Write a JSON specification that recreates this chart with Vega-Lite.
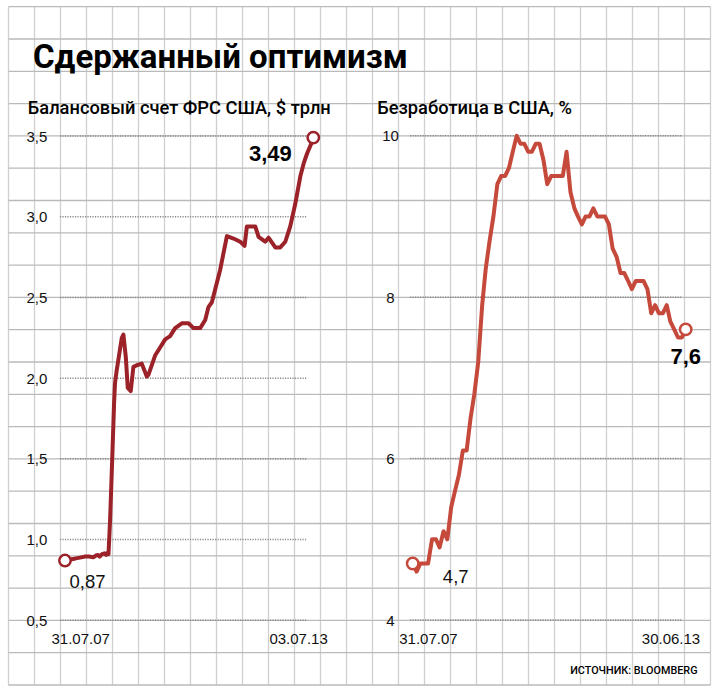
{
  "$schema": "https://vega.github.io/schema/vega-lite/v6.json",
  "width": 719,
  "height": 696,
  "autosize": {"type": "none"},
  "padding": 0,
  "background": "white",
  "config": {"view": {"stroke": null}, "font": "Liberation Sans"},
  "title": {
    "text": "Сдержанный оптимизм",
    "anchor": "start",
    "frame": "group",
    "offset": 0,
    "dx": 33,
    "dy": 101.4,
    "baseline": "alphabetic",
    "font": "Roboto",
    "fontSize": 33,
    "fontWeight": "bold",
    "color": "#000000"
  },
  "datasets": {
    "paperV": [{"k":0},{"k":1},{"k":2},{"k":3},{"k":4},{"k":5},{"k":6},{"k":7},{"k":8},{"k":9},{"k":10},{"k":11},{"k":12},{"k":13},{"k":14},{"k":15},{"k":16},{"k":17},{"k":18},{"k":19},{"k":20},{"k":21},{"k":22},{"k":23},{"k":24},{"k":25},{"k":26},{"k":27}],
    "paperH": [{"r":0},{"r":1},{"r":2},{"r":3},{"r":4},{"r":5},{"r":6},{"r":7},{"r":8},{"r":9},{"r":10},{"r":11},{"r":12},{"r":13},{"r":14},{"r":15},{"r":16},{"r":17},{"r":18},{"r":19},{"r":20},{"r":21}],
    "fed": [
      {"date":"2007-07-31","value":0.87},{"date":"2007-09-05","value":0.875},{"date":"2007-10-10","value":0.88},{"date":"2007-11-14","value":0.885},{"date":"2007-12-19","value":0.89},{"date":"2008-01-23","value":0.895},{"date":"2008-02-27","value":0.895},{"date":"2008-04-02","value":0.89},{"date":"2008-04-23","value":0.9},{"date":"2008-05-14","value":0.905},{"date":"2008-05-28","value":0.895},{"date":"2008-06-18","value":0.91},{"date":"2008-07-09","value":0.915},{"date":"2008-07-23","value":0.905},{"date":"2008-08-06","value":0.92},{"date":"2008-08-13","value":0.91},{"date":"2008-08-27","value":1.12},{"date":"2008-09-16","value":1.53},{"date":"2008-10-01","value":1.85},{"date":"2008-10-09","value":1.97},{"date":"2008-10-24","value":2.05},{"date":"2008-12-07","value":2.25},{"date":"2008-12-21","value":2.27},{"date":"2009-01-11","value":2.13},{"date":"2009-01-28","value":1.94},{"date":"2009-02-23","value":1.92},{"date":"2009-03-18","value":2.07},{"date":"2009-04-17","value":2.08},{"date":"2009-05-30","value":2.09},{"date":"2009-07-13","value":2.01},{"date":"2009-07-27","value":2.02},{"date":"2009-09-23","value":2.14},{"date":"2009-11-06","value":2.19},{"date":"2009-12-20","value":2.24},{"date":"2010-02-01","value":2.26},{"date":"2010-03-17","value":2.31},{"date":"2010-05-14","value":2.34},{"date":"2010-07-11","value":2.34},{"date":"2010-08-24","value":2.31},{"date":"2010-10-21","value":2.31},{"date":"2010-12-04","value":2.36},{"date":"2011-01-01","value":2.44},{"date":"2011-01-31","value":2.47},{"date":"2011-04-13","value":2.67},{"date":"2011-06-11","value":2.88},{"date":"2011-08-08","value":2.865},{"date":"2011-10-05","value":2.845},{"date":"2011-11-12","value":2.82},{"date":"2011-12-02","value":2.94},{"date":"2012-02-13","value":2.94},{"date":"2012-03-13","value":2.875},{"date":"2012-05-10","value":2.845},{"date":"2012-06-08","value":2.87},{"date":"2012-08-06","value":2.81},{"date":"2012-09-18","value":2.81},{"date":"2012-11-01","value":2.845},{"date":"2012-12-14","value":2.94},{"date":"2013-01-27","value":3.08},{"date":"2013-03-12","value":3.25},{"date":"2013-04-10","value":3.33},{"date":"2013-05-09","value":3.39},{"date":"2013-06-22","value":3.465},{"date":"2013-07-03","value":3.49}
    ],
    "fedEnds": [
      {"date":"2007-07-31","value":0.87,"label":"0,87"},
      {"date":"2013-07-03","value":3.49,"label":"3,49"}
    ],
    "fedGrid": [{"v":0.5},{"v":1.0},{"v":1.5},{"v":2.0},{"v":2.5},{"v":3.0},{"v":3.5}],
    "unemp": [
      {"date":"2007-07-31","value":4.7},{"date":"2007-08-31","value":4.6},{"date":"2007-09-30","value":4.7},{"date":"2007-10-31","value":4.7},{"date":"2007-11-30","value":4.7},{"date":"2007-12-31","value":5.0},
      {"date":"2008-01-31","value":5.0},{"date":"2008-02-29","value":4.9},{"date":"2008-03-31","value":5.1},{"date":"2008-04-30","value":5.0},{"date":"2008-05-31","value":5.4},{"date":"2008-06-30","value":5.6},{"date":"2008-07-31","value":5.8},{"date":"2008-08-31","value":6.1},{"date":"2008-09-30","value":6.1},{"date":"2008-10-31","value":6.5},{"date":"2008-11-30","value":6.8},{"date":"2008-12-31","value":7.2},
      {"date":"2009-01-31","value":7.9},{"date":"2009-02-28","value":8.35},{"date":"2009-03-31","value":8.7},{"date":"2009-04-30","value":9.0},{"date":"2009-05-31","value":9.4},{"date":"2009-06-30","value":9.5},{"date":"2009-07-31","value":9.5},{"date":"2009-08-31","value":9.6},{"date":"2009-09-30","value":9.8},{"date":"2009-10-31","value":10.0},{"date":"2009-11-30","value":9.9},{"date":"2009-12-31","value":9.9},
      {"date":"2010-01-31","value":9.8},{"date":"2010-02-28","value":9.8},{"date":"2010-03-31","value":9.9},{"date":"2010-04-30","value":9.9},{"date":"2010-05-31","value":9.7},{"date":"2010-06-30","value":9.4},{"date":"2010-07-31","value":9.5},{"date":"2010-08-31","value":9.5},{"date":"2010-09-30","value":9.5},{"date":"2010-10-31","value":9.5},{"date":"2010-11-30","value":9.8},{"date":"2010-12-31","value":9.3},
      {"date":"2011-01-31","value":9.1},{"date":"2011-02-28","value":9.0},{"date":"2011-03-31","value":8.9},{"date":"2011-04-30","value":9.0},{"date":"2011-05-31","value":9.0},{"date":"2011-06-30","value":9.1},{"date":"2011-07-31","value":9.0},{"date":"2011-08-31","value":9.0},{"date":"2011-09-30","value":9.0},{"date":"2011-10-31","value":8.9},{"date":"2011-11-30","value":8.6},{"date":"2011-12-31","value":8.5},
      {"date":"2012-01-31","value":8.3},{"date":"2012-02-29","value":8.3},{"date":"2012-03-31","value":8.2},{"date":"2012-04-30","value":8.1},{"date":"2012-05-31","value":8.2},{"date":"2012-06-30","value":8.2},{"date":"2012-07-31","value":8.2},{"date":"2012-08-31","value":8.1},{"date":"2012-09-30","value":7.8},{"date":"2012-10-31","value":7.9},{"date":"2012-11-30","value":7.8},{"date":"2012-12-31","value":7.8},
      {"date":"2013-01-31","value":7.9},{"date":"2013-02-28","value":7.7},{"date":"2013-03-31","value":7.6},{"date":"2013-04-30","value":7.5},{"date":"2013-05-31","value":7.5},{"date":"2013-06-30","value":7.6}
    ],
    "unempEnds": [
      {"date":"2007-07-31","value":4.7,"label":"4,7"},
      {"date":"2013-06-30","value":7.6,"label":"7,6"}
    ],
    "unempGrid": [{"v":4},{"v":6},{"v":8},{"v":10}]
  },
  "layer": [
    {
      "data": {"name": "paperV"},
      "mark": {"type": "rule", "color": "#d0d0d0", "strokeWidth": 1.3},
      "encoding": {
        "x": {"field": "k", "type": "quantitative", "axis": null, "scale": {"domain": [0, 27], "range": [8.5, 710.5], "nice": false, "zero": false}},
        "y": {"datum": 0, "type": "quantitative", "axis": null, "scale": {"domain": [0, 21], "range": [6.7, 685], "nice": false, "zero": false}},
        "y2": {"datum": 21}
      }
    },
    {
      "data": {"name": "paperH"},
      "mark": {"type": "rule", "color": "#bababa", "strokeWidth": 1.3},
      "encoding": {
        "y": {"field": "r", "type": "quantitative", "axis": null, "scale": {"domain": [0, 21], "range": [6.7, 685], "nice": false, "zero": false}},
        "x": {"datum": 0, "type": "quantitative", "axis": null, "scale": {"domain": [0, 27], "range": [8.5, 710.5], "nice": false, "zero": false}},
        "x2": {"datum": 27}
      }
    },
    {
      "mark": {"type": "rect", "fill": "white"},
      "encoding": {
        "x": {"datum": 0.442, "type": "quantitative", "axis": null, "scale": {"domain": [0, 27], "range": [8.5, 710.5], "nice": false, "zero": false}},
        "x2": {"datum": 26.557},
        "y": {"datum": 0.5, "type": "quantitative", "axis": null, "scale": {"domain": [0, 21], "range": [6.7, 685], "nice": false, "zero": false}},
        "y2": {"datum": 2.53}
      }
    },
    {
      "mark": {"type": "rule", "color": "#bdbdbd", "strokeWidth": 1.3},
      "encoding": {
        "x": {"datum": 0.442, "type": "quantitative", "axis": null, "scale": {"domain": [0, 27], "range": [8.5, 710.5], "nice": false, "zero": false}},
        "x2": {"datum": 26.557},
        "y": {"datum": 0.5, "type": "quantitative", "axis": null, "scale": {"domain": [0, 21], "range": [6.7, 685], "nice": false, "zero": false}}
      }
    },
    {
      "mark": {"type": "rule", "color": "#bdbdbd", "strokeWidth": 1.3},
      "encoding": {
        "x": {"datum": 0.442, "type": "quantitative", "axis": null, "scale": {"domain": [0, 27], "range": [8.5, 710.5], "nice": false, "zero": false}},
        "y": {"datum": 0.5, "type": "quantitative", "axis": null, "scale": {"domain": [0, 21], "range": [6.7, 685], "nice": false, "zero": false}},
        "y2": {"datum": 2.53}
      }
    },
    {
      "mark": {"type": "rule", "color": "#bdbdbd", "strokeWidth": 1.3},
      "encoding": {
        "x": {"datum": 26.557, "type": "quantitative", "axis": null, "scale": {"domain": [0, 27], "range": [8.5, 710.5], "nice": false, "zero": false}},
        "y": {"datum": 0.5, "type": "quantitative", "axis": null, "scale": {"domain": [0, 21], "range": [6.7, 685], "nice": false, "zero": false}},
        "y2": {"datum": 2.53}
      }
    },
    {
      "data": {"name": "fedGrid"},
      "mark": {"type": "rule", "color": "#888888", "strokeWidth": 1.5, "strokeDash": [1.2, 1.3]},
      "encoding": {
        "y": {"field": "v", "type": "quantitative", "axis": null, "scale": {"domain": [0.5, 3.5], "range": [620.3, 136], "nice": false, "zero": false}},
        "x": {"datum": {"year": 2007, "month": 6, "date": 17, "utc": true}, "type": "temporal", "axis": null, "scale": {"type": "utc", "domain": [{"year": 2007, "month": 7, "date": 31, "utc": true}, {"year": 2013, "month": 7, "date": 3, "utc": true}], "range": [65, 313.3], "nice": false}},
        "x2": {"datum": {"year": 2013, "month": 5, "date": 12, "utc": true}}
      }
    },
    {
      "data": {"name": "fed"},
      "mark": {"type": "line", "color": "#9c2229", "strokeWidth": 4, "strokeJoin": "round", "strokeCap": "round"},
      "encoding": {
        "x": {"field": "date", "type": "temporal",
          "scale": {"type": "utc", "domain": [{"year": 2007, "month": 7, "date": 31, "utc": true}, {"year": 2013, "month": 7, "date": 3, "utc": true}], "range": [65, 313.3], "nice": false},
          "axis": {
          "orient": "bottom", "offset": -58, "values": [{"year": 2007, "month": 7, "date": 31, "utc": true}, {"year": 2013, "month": 7, "date": 3, "utc": true}],
          "labelExpr": "utcFormat(datum.value, '%d.%m.%y')", "domain": false, "ticks": false, "tickSize": 0, "grid": false,
          "labelPadding": 0, "labelBaseline": "middle", "labelFlush": true, "labelFlushOffset": 14, "labelFontSize": 15, "labelColor": "#111111",
          "labelOverlap": false, "labelBound": false, "title": null, "zindex": 1
        }},
        "y": {"field": "value", "type": "quantitative",
          "scale": {"domain": [0.5, 3.5], "range": [620.3, 136], "nice": false, "zero": false},
          "axis": {
          "orient": "left", "offset": -36.3, "values": [0.5, 1, 1.5, 2, 2.5, 3, 3.5],
          "labelExpr": "replace(format(datum.value, '.1f'), '.', ',')",
          "domain": false, "ticks": false, "tickSize": 0, "grid": false, "labelPadding": 0,
          "labelAlign": "center", "labelBaseline": "middle", "labelFontSize": 15, "labelColor": "#111111", "labelOverlap": false, "labelBound": false,
          "title": "Балансовый счет ФРС США, $ трлн", "titleAngle": 0, "titleAlign": "left", "titleBaseline": "alphabetic",
          "titleX": -9, "titleY": 113, "titleFont": "Roboto", "titleFontSize": 18.3, "titleFontWeight": 500, "titleColor": "#000000", "zindex": 1
        }}
      }
    },
    {
      "data": {"name": "fedEnds"},
      "mark": {"type": "point", "shape": "circle", "filled": true, "fill": "white", "stroke": "#9c2229", "strokeWidth": 2.5, "size": 130, "opacity": 1},
      "encoding": {
        "x": {"field": "date", "type": "temporal", "axis": null, "scale": {"type": "utc", "domain": [{"year": 2007, "month": 7, "date": 31, "utc": true}, {"year": 2013, "month": 7, "date": 3, "utc": true}], "range": [65, 313.3], "nice": false}},
        "y": {"field": "value", "type": "quantitative", "axis": null, "scale": {"domain": [0.5, 3.5], "range": [620.3, 136], "nice": false, "zero": false}}
      }
    },
    {
      "data": {"name": "fedEnds"},
      "transform": [{"filter": "datum.label === '0,87'"}],
      "mark": {"type": "text", "dx": 22.5, "dy": 21, "fontSize": 18.5, "align": "center", "baseline": "middle", "color": "#111111"},
      "encoding": {
        "x": {"field": "date", "type": "temporal", "axis": null, "scale": {"type": "utc", "domain": [{"year": 2007, "month": 7, "date": 31, "utc": true}, {"year": 2013, "month": 7, "date": 3, "utc": true}], "range": [65, 313.3], "nice": false}},
        "y": {"field": "value", "type": "quantitative", "axis": null, "scale": {"domain": [0.5, 3.5], "range": [620.3, 136], "nice": false, "zero": false}},
        "text": {"field": "label"}
      }
    },
    {
      "data": {"name": "fedEnds"},
      "transform": [{"filter": "datum.label === '3,49'"}],
      "mark": {"type": "text", "dx": -43, "dy": 16.5, "fontSize": 22, "fontWeight": "bold", "align": "center", "baseline": "middle", "color": "#000000"},
      "encoding": {
        "x": {"field": "date", "type": "temporal", "axis": null, "scale": {"type": "utc", "domain": [{"year": 2007, "month": 7, "date": 31, "utc": true}, {"year": 2013, "month": 7, "date": 3, "utc": true}], "range": [65, 313.3], "nice": false}},
        "y": {"field": "value", "type": "quantitative", "axis": null, "scale": {"domain": [0.5, 3.5], "range": [620.3, 136], "nice": false, "zero": false}},
        "text": {"field": "label"}
      }
    },
    {
      "data": {"name": "unempGrid"},
      "mark": {"type": "rule", "color": "#888888", "strokeWidth": 1.5, "strokeDash": [1.2, 1.3]},
      "encoding": {
        "y": {"field": "v", "type": "quantitative", "axis": null, "scale": {"domain": [4, 10], "range": [620, 135.7], "nice": false, "zero": false}},
        "x": {"datum": {"year": 2007, "month": 7, "date": 10, "utc": true}, "type": "temporal", "axis": null, "scale": {"type": "utc", "domain": [{"year": 2007, "month": 7, "date": 31, "utc": true}, {"year": 2013, "month": 6, "date": 30, "utc": true}], "range": [412.7, 685.7], "nice": false}},
        "x2": {"datum": {"year": 2013, "month": 5, "date": 29, "utc": true}}
      }
    },
    {
      "data": {"name": "unemp"},
      "mark": {"type": "line", "color": "#c64a3c", "strokeWidth": 4, "strokeJoin": "round", "strokeCap": "round"},
      "encoding": {
        "x": {"field": "date", "type": "temporal",
          "scale": {"type": "utc", "domain": [{"year": 2007, "month": 7, "date": 31, "utc": true}, {"year": 2013, "month": 6, "date": 30, "utc": true}], "range": [412.7, 685.7], "nice": false},
          "axis": {
          "orient": "bottom", "offset": -58, "values": [{"year": 2007, "month": 7, "date": 31, "utc": true}, {"year": 2013, "month": 6, "date": 30, "utc": true}],
          "labelExpr": "utcFormat(datum.value, '%d.%m.%y')", "domain": false, "ticks": false, "tickSize": 0, "grid": false,
          "labelPadding": 0, "labelBaseline": "middle", "labelFlush": true, "labelFlushOffset": 14, "labelFontSize": 15, "labelColor": "#111111",
          "labelOverlap": false, "labelBound": false,
          "title": "ИСТОЧНИК: BLOOMBERG", "titleX": 697, "titleY": 32, "titleAlign": "right", "titleBaseline": "middle",
          "titleFont": "Roboto", "titleFontSize": 10.8, "titleFontWeight": 500, "titleColor": "#000000", "zindex": 1
        }},
        "y": {"field": "value", "type": "quantitative",
          "scale": {"domain": [4, 10], "range": [620, 135.7], "nice": false, "zero": false},
          "axis": {
          "orient": "left", "offset": -390, "values": [4, 6, 8, 10],
          "domain": false, "ticks": false, "tickSize": 0, "grid": false, "labelPadding": 0,
          "labelAlign": "center", "labelBaseline": "middle", "labelFontSize": 15, "labelColor": "#111111", "labelOverlap": false, "labelBound": false,
          "title": "Безработица в США, %", "titleAngle": 0, "titleAlign": "left", "titleBaseline": "alphabetic",
          "titleX": -13.3, "titleY": 113, "titleFont": "Roboto", "titleFontSize": 18.3, "titleFontWeight": 500, "titleColor": "#000000", "zindex": 1
        }}
      }
    },
    {
      "data": {"name": "unempEnds"},
      "mark": {"type": "point", "shape": "circle", "filled": true, "fill": "white", "stroke": "#c64a3c", "strokeWidth": 2.5, "size": 130, "opacity": 1},
      "encoding": {
        "x": {"field": "date", "type": "temporal", "axis": null, "scale": {"type": "utc", "domain": [{"year": 2007, "month": 7, "date": 31, "utc": true}, {"year": 2013, "month": 6, "date": 30, "utc": true}], "range": [412.7, 685.7], "nice": false}},
        "y": {"field": "value", "type": "quantitative", "axis": null, "scale": {"domain": [4, 10], "range": [620, 135.7], "nice": false, "zero": false}}
      }
    },
    {
      "data": {"name": "unempEnds"},
      "transform": [{"filter": "datum.label === '4,7'"}],
      "mark": {"type": "text", "dx": 43, "dy": 14, "fontSize": 18.5, "align": "center", "baseline": "middle", "color": "#111111"},
      "encoding": {
        "x": {"field": "date", "type": "temporal", "axis": null, "scale": {"type": "utc", "domain": [{"year": 2007, "month": 7, "date": 31, "utc": true}, {"year": 2013, "month": 6, "date": 30, "utc": true}], "range": [412.7, 685.7], "nice": false}},
        "y": {"field": "value", "type": "quantitative", "axis": null, "scale": {"domain": [4, 10], "range": [620, 135.7], "nice": false, "zero": false}},
        "text": {"field": "label"}
      }
    },
    {
      "data": {"name": "unempEnds"},
      "transform": [{"filter": "datum.label === '7,6'"}],
      "mark": {"type": "text", "dx": 0, "dy": 27.5, "fontSize": 22, "fontWeight": "bold", "align": "center", "baseline": "middle", "color": "#000000"},
      "encoding": {
        "x": {"field": "date", "type": "temporal", "axis": null, "scale": {"type": "utc", "domain": [{"year": 2007, "month": 7, "date": 31, "utc": true}, {"year": 2013, "month": 6, "date": 30, "utc": true}], "range": [412.7, 685.7], "nice": false}},
        "y": {"field": "value", "type": "quantitative", "axis": null, "scale": {"domain": [4, 10], "range": [620, 135.7], "nice": false, "zero": false}},
        "text": {"field": "label"}
      }
    }
  ],
  "resolve": {"scale": {"x": "independent", "y": "independent"}, "axis": {"x": "independent", "y": "independent"}}
}
